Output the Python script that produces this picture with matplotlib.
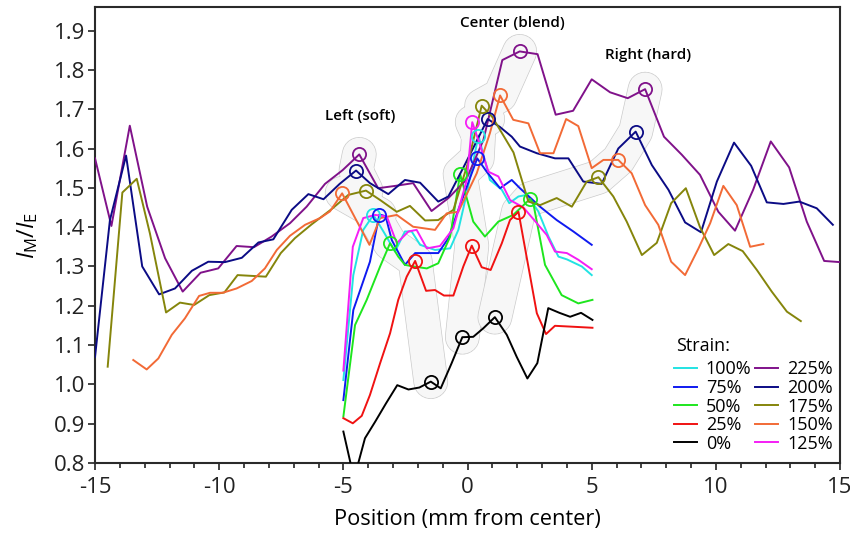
import numpy as np
import matplotlib
matplotlib.use('Agg')
import matplotlib.pyplot as plt
import matplotlib.patheffects as pe

plt.rcParams['font.family'] = ['Open Sans', 'DejaVu Sans']
plt.rcParams['axes.unicode_minus'] = False
plt.rcParams['mathtext.fontset'] = 'custom'
plt.rcParams['mathtext.it'] = 'Open Sans:italic'
plt.rcParams['mathtext.rm'] = 'Open Sans'

# strain series, position (mm from center) and intensity ratio
x225 = [-15, -14.34, -13.6, -12.9, -12.18, -11.47, -10.75, -10.04, -9.3, -8.6, -7.89, -7.15, -6.48, -5.74,
        -5.03, -4.36, -3.6, -2.9, -2.19, -1.45, -0.77, -0.06, 0.64, 1.4, 2.1, 2.82, 3.55, 4.25, 5.0, 5.74,
        6.45, 7.15, 7.91, 8.63, 9.36, 10.1, 10.77, 11.5, 12.21, 12.95, 13.66, 14.36, 15.0]
y225 = [1.575, 1.403, 1.658, 1.452, 1.321, 1.236, 1.284, 1.295, 1.352, 1.349, 1.376, 1.41, 1.452, 1.51,
        1.545, 1.585, 1.499, 1.505, 1.512, 1.441, 1.474, 1.52, 1.622, 1.825, 1.847, 1.84, 1.686, 1.696, 1.776,
        1.743, 1.728, 1.751, 1.63, 1.584, 1.533, 1.439, 1.391, 1.495, 1.618, 1.552, 1.414, 1.314, 1.311]

x200 = [-15, -14.4, -13.75, -13.1, -12.42, -11.78, -11.1, -10.44, -9.77, -9.09, -8.42, -7.82, -7.08, -6.41,
        -5.8, -5.15, -4.49, -3.93, -3.19, -2.52, -1.91, -1.18, -0.77, -0.1, 0.81, 1.3, 1.78, 2.11, 2.79, 3.52,
        4.06, 4.66, 5.4, 6.07, 6.77, 7.42, 8.09, 8.76, 9.4, 10.04, 10.73, 11.42, 12.05, 12.72, 13.36, 14.06, 14.71]
y200 = [1.07, 1.418, 1.582, 1.30, 1.229, 1.244, 1.289, 1.312, 1.311, 1.322, 1.361, 1.369, 1.444, 1.484,
        1.471, 1.51, 1.544, 1.512, 1.484, 1.52, 1.513, 1.465, 1.478, 1.56, 1.675, 1.655, 1.63, 1.605, 1.588, 1.575,
        1.575, 1.516, 1.51, 1.6, 1.643, 1.558, 1.495, 1.412, 1.387, 1.516, 1.615, 1.556, 1.463, 1.459, 1.465, 1.448, 1.406]

x175 = [-14.49, -13.9, -13.32, -12.79, -12.14, -11.58, -11.01, -10.4, -9.79, -9.26, -8.69, -8.12, -7.52, -6.95,
        -6.28, -5.47, -4.8, -4.09, -3.52, -2.85, -2.32, -1.71, -1.18, -0.57, 0.0, 0.57, 1.0, 1.85, 2.45, 2.92,
        3.59, 4.2, 4.8, 5.27, 5.87, 6.41, 7.02, 7.62, 8.2, 8.79, 9.36, 9.93, 10.5, 11.08, 11.65, 12.25, 12.86, 13.42]
y175 = [1.045, 1.488, 1.523, 1.384, 1.183, 1.208, 1.202, 1.227, 1.234, 1.278, 1.276, 1.274, 1.334, 1.372,
        1.407, 1.446, 1.482, 1.493, 1.469, 1.439, 1.454, 1.417, 1.418, 1.444, 1.56, 1.709, 1.68, 1.59, 1.465, 1.456,
        1.474, 1.452, 1.516, 1.527, 1.478, 1.414, 1.329, 1.36, 1.461, 1.499, 1.40, 1.329, 1.357, 1.339, 1.291, 1.236,
        1.185, 1.161]

x150 = [-13.46, -12.92, -12.45, -11.91, -11.38, -10.81, -10.37, -9.86, -9.3, -8.69, -8.16, -7.68, -7.15, -6.54,
        -5.94, -5.54, -5.05, -4.5, -3.95, -3.52, -2.85, -2.19, -1.31, -0.84, -0.37, 0.37, 0.9, 1.31, 1.84, 2.45,
        2.92, 3.46, 3.97, 4.46, 5.0, 5.47, 6.07, 6.61, 7.15, 7.68, 8.2, 8.76, 9.3, 9.77, 10.3, 10.84, 11.38, 11.91]
y150 = [1.062, 1.038, 1.066, 1.126, 1.168, 1.225, 1.233, 1.233, 1.244, 1.263, 1.295, 1.342, 1.378, 1.406,
        1.423, 1.44, 1.486, 1.42, 1.355, 1.423, 1.431, 1.401, 1.393, 1.435, 1.439, 1.537, 1.639, 1.735, 1.673, 1.664,
        1.588, 1.588, 1.675, 1.657, 1.55, 1.571, 1.571, 1.537, 1.456, 1.406, 1.312, 1.278, 1.346, 1.41, 1.505,
        1.456, 1.35, 1.357]

x125 = [-5.0, -4.62, -4.2, -3.72, -3.25, -2.85, -2.38, -2.05, -1.64, -1.11, -0.57, -0.03, 0.19, 0.48, 0.84,
        1.24, 1.71, 2.25, 2.79, 3.19, 3.52, 4.0, 4.46, 5.0]
y125 = [1.035, 1.35, 1.423, 1.431, 1.427, 1.359, 1.389, 1.393, 1.346, 1.352, 1.397, 1.52, 1.667, 1.613, 1.541,
        1.529, 1.469, 1.45, 1.41, 1.38, 1.338, 1.334, 1.317, 1.293]

x100 = [-5.0, -4.6, -4.2, -3.79, -3.35, -2.92, -2.52, -2.25, -1.91, -1.31, -0.7, -0.37, -0.03, 0.44, 0.9,
        1.38, 1.68, 2.05, 2.38, 2.85, 3.26, 3.66, 4.0, 4.6, 5.0]
y100 = [1.011, 1.278, 1.393, 1.431, 1.385, 1.338, 1.389, 1.389, 1.355, 1.342, 1.346, 1.393, 1.486, 1.633, 1.52,
        1.495, 1.461, 1.478, 1.482, 1.44, 1.376, 1.325, 1.318, 1.3, 1.278]

x75 = [-5.0, -4.6, -3.93, -3.55, -3.3, -3.05, -2.52, -2.11, -1.6, -1.18, -0.77, -0.37, 0.39, 0.77, 1.31,
       1.78, 2.11, 2.92, 3.59, 4.26, 5.0]
y75 = [0.96, 1.189, 1.312, 1.432, 1.428, 1.367, 1.304, 1.334, 1.334, 1.334, 1.372, 1.444, 1.575, 1.541, 1.499,
       1.52, 1.499, 1.452, 1.418, 1.389, 1.355]

x50 = [-5.0, -4.53, -4.06, -3.52, -3.12, -2.79, -2.52, -2.18, -1.64, -1.18, -0.7, -0.3, 0.23, 0.7, 1.24,
       1.84, 2.52, 2.65, 3.12, 3.79, 4.46, 5.03]
y50 = [0.918, 1.151, 1.215, 1.3, 1.359, 1.325, 1.304, 1.3, 1.295, 1.308, 1.376, 1.535, 1.414, 1.376, 1.414,
       1.431, 1.472, 1.46, 1.304, 1.227, 1.206, 1.215]

x25 = [-5.0, -4.62, -4.26, -3.93, -3.52, -3.12, -2.79, -2.45, -2.11, -1.67, -1.31, -0.95, -0.57, -0.17, 0.17,
       0.57, 0.93, 1.38, 1.71, 2.05, 2.79, 3.16, 3.52, 4.13, 5.03]
y25 = [0.914, 0.901, 0.92, 0.973, 1.054, 1.13, 1.215, 1.274, 1.314, 1.238, 1.24, 1.226, 1.226, 1.3, 1.353,
       1.298, 1.291, 1.359, 1.418, 1.439, 1.181, 1.128, 1.149, 1.147, 1.144]

x0 = [-5.0, -4.57, -4.13, -3.72, -3.28, -2.83, -2.38, -1.94, -1.48, -1.08, -0.64, -0.21, 0.23, 0.64, 1.1,
      1.58, 1.98, 2.41, 2.81, 3.25, 3.7, 4.13, 4.57, 5.03]
y0 = [0.88, 0.76, 0.863, 0.905, 0.952, 0.998, 0.987, 0.992, 1.007, 0.99, 1.054, 1.12, 1.121, 1.143, 1.171,
      1.126, 1.07, 1.015, 1.054, 1.194, 1.182, 1.172, 1.182, 1.164]

# circled peaks per series: (left/soft, center/blend, right/hard)
peaks = {
    '225%': (-4.36, 2.1, 7.15),
    '200%': (-4.49, 0.81, 6.77),
    '175%': (-4.09, 0.57, 5.27),
    '150%': (-5.05, 1.31, 6.07),
    '125%': (None, 0.19, None),
    '100%': (-3.79, 0.44, None),
    '75%': (-3.55, 0.39, None),
    '50%': (-3.12, -0.3, 2.52),
    '25%': (-2.11, 0.17, 2.05),
    '0%': (-1.48, -0.21, 1.1),
}

series = [
    ('100%', x100, y100, '#22e3e3'),
    ('75%', x75, y75, '#0f1af0'),
    ('50%', x50, y50, '#1ee61e'),
    ('25%', x25, y25, '#f01212'),
    ('0%', x0, y0, '#000000'),
    ('225%', x225, y225, '#80128a'),
    ('200%', x200, y200, '#0b0b85'),
    ('175%', x175, y175, '#85850b'),
    ('150%', x150, y150, '#f26a36'),
    ('125%', x125, y125, '#f51ef5'),
]

fig = plt.figure(figsize=(8.5, 5.38), dpi=100)
ax = fig.add_axes([0.1118, 0.1394, 0.8765, 0.8476])

# grey shaded regions around the circled peaks
groups = [[], [], []]
for name, xs, ys, c in series:
    for k, p in enumerate(peaks[name]):
        if p is not None:
            groups[k].append((p, np.interp(p, xs, ys)))
for g in groups:
    g = sorted(g, key=lambda t: -t[1])
    ax.plot([t[0] for t in g], [t[1] for t in g], lw=24, color='#f7f7f7',
            solid_capstyle='round', solid_joinstyle='round', zorder=1,
            path_effects=[pe.Stroke(linewidth=25, foreground='#cbcbcb'), pe.Normal()])

for name, xs, ys, c in series:
    ax.plot(xs, ys, color=c, lw=1.4, label=name, zorder=3)
    px = [p for p in peaks[name] if p is not None]
    ax.plot(px, np.interp(px, xs, ys), 'o', mfc='none', mec=c, ms=9.5, mew=1.3, zorder=4)

ax.text(-4.33, 1.683, 'Left (soft)', ha='center', va='center', fontsize=11, fontweight='semibold')
ax.text(1.79, 1.92, 'Center (blend)', ha='center', va='center', fontsize=11, fontweight='semibold')
ax.text(7.27, 1.838, 'Right (hard)', ha='center', va='center', fontsize=11, fontweight='semibold')

ax.set_xlim(-15, 15)
ax.set_ylim(0.8, 1.96)
ax.set_xticks(np.arange(-15, 16, 5))
ax.set_xticks(np.arange(-15, 16, 1), minor=True)
ax.set_yticks(np.round(np.arange(0.8, 1.91, 0.1), 1))
ax.yaxis.set_major_formatter(matplotlib.ticker.FormatStrFormatter('%.1f'))
ax.tick_params(which='both', direction='out', width=1.2, colors='#222222', labelsize=16)
ax.tick_params(axis='y', pad=2)
ax.tick_params(axis='x', pad=5)
ax.tick_params(which='major', length=5)
ax.tick_params(which='minor', length=3.5)
for s in ax.spines.values():
    s.set_linewidth(1.5)
    s.set_color('#2a2a2a')

ax.set_xlabel('Position (mm from center)', fontsize=15.7, labelpad=8)
ax.set_ylabel(r'$I_\mathregular{M}/I_\mathregular{E}$', fontsize=17, labelpad=10)

ax.text(0.780, 0.2566, 'Strain:', transform=ax.transAxes, ha='left', va='center', fontsize=13)
leg = ax.legend(ncol=2, loc='upper left', bbox_to_anchor=(0.777, 0.2248),
                frameon=False, fontsize=13,
                handlelength=1.27, handletextpad=0.5, columnspacing=0.2, labelspacing=0.03,
                borderpad=0, borderaxespad=0)

fig.savefig('out.png', dpi=100)
